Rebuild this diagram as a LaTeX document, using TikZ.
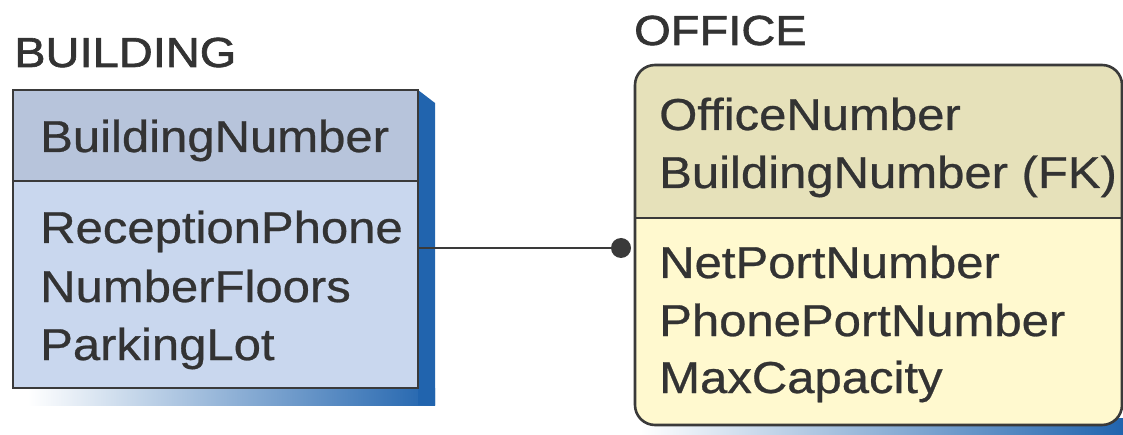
\documentclass[tikz,border=0pt]{standalone}
\usepackage{fontspec}
\setmainfont{Liberation Sans}
\newfontfamily\bodyf[FakeStretch=1.097,FakeBold=0.6]{Liberation Sans}
\newfontfamily\titlef[FakeStretch=1.12,FakeBold=1.5]{Liberation Sans}
\usetikzlibrary{calc}
\definecolor{outl}{HTML}{3A3A3A}
\definecolor{txt}{HTML}{333333}
\definecolor{bheadc}{HTML}{B7C4DB}
\definecolor{bbodyc}{HTML}{C9D7EE}
\definecolor{oheadc}{HTML}{E6E1BA}
\definecolor{obodyc}{HTML}{FFF9CF}
\definecolor{shblue}{HTML}{2164AE}
\begin{document}
\begin{tikzpicture}[x=1pt,y=-1pt,
  region/.style={inner sep=0pt, outer sep=0pt, rectangle},
  boxline/.style={draw=outl, line width=2.6pt},
  title/.style={anchor=base west, inner sep=0pt, text=txt, font=\titlef\fontsize{42}{48}\selectfont},
  attr/.style={anchor=base west, inner sep=0pt, text=txt, font=\bodyf\fontsize{44.7}{52}\selectfont},
  conn/.style={draw=outl, line width=2pt},
  dotnode/.style={circle, fill=outl, inner sep=0pt, minimum size=20pt}
]
\useasboundingbox (0,0) rectangle (1123,435);

% ---------- BUILDING ----------
\node[title] (btitle) at (14,67) {BUILDING};
% shadow
\shade[left color=white, right color=shblue] (28,388) rectangle (435,405);
\fill[shblue] (418,90) -- (435,103) -- (435,405) -- (418,405) -- cycle;
\node[region, fill=bheadc, boxline, minimum width=405pt, minimum height=91pt] (bhead) at (215.5,135.5) {};
\node[region, fill=bbodyc, boxline, minimum width=405pt, minimum height=207pt] (bbody) at (215.5,284.5) {};
\node[attr] (bpk) at (40,152) {BuildingNumber};
\node[attr] (ba1) at (40,243) {ReceptionPhone};
\node[attr] (ba2) at (40,302) {NumberFloors};
\node[attr] (ba3) at (40,360) {ParkingLot};

% ---------- OFFICE ----------
\node[title] (otitle) at (634,45) {OFFICE};
\shade[left color=white, right color=shblue] (640,418) rectangle (1123,435);
\node[region, minimum width=487pt, minimum height=153pt] (ohead) at (878.5,141.5) {};
\node[region, minimum width=487pt, minimum height=207pt] (obody) at (878.5,321.5) {};
\fill[obodyc, rounded corners=20pt] (ohead.north west) rectangle (obody.south east);
\fill[oheadc] (ohead.south west) [rounded corners=20pt] -- (ohead.north west) -- (ohead.north east) [sharp corners] -- (ohead.south east) -- cycle;
\draw[boxline, rounded corners=20pt] (ohead.north west) rectangle (obody.south east);
\draw[boxline] (ohead.south west) -- (ohead.south east);
\node[attr] (opk1) at (659,130) {OfficeNumber};
\node[attr] (opk2) at (659,188) {BuildingNumber (FK)};
\node[attr] (oa1) at (659,278) {NetPortNumber};
\node[attr] (oa2) at (659,336) {PhonePortNumber};
\node[attr] (oa3) at (659,393) {MaxCapacity};

% ---------- relationship ----------
\node[dotnode] (dot) at (621,248) {};
\draw[conn] (bbody.east |- dot) -- (dot);
\end{tikzpicture}
\end{document}
